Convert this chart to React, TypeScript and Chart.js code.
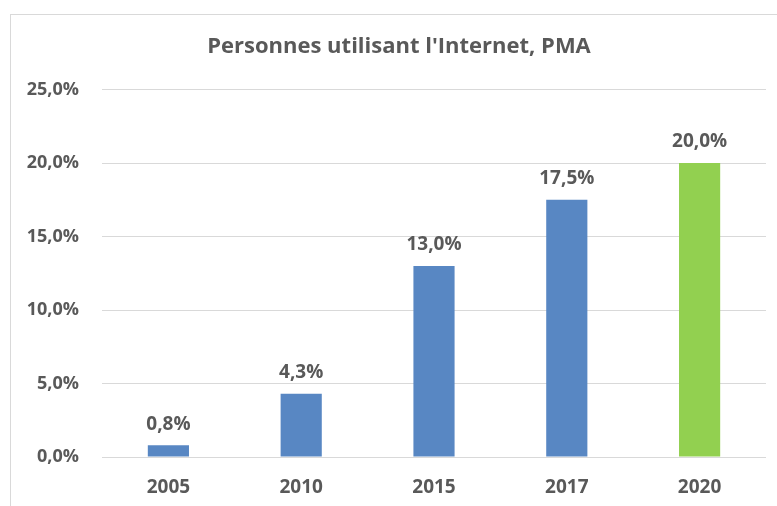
import React, { useEffect, useRef } from "react";
import { Chart, registerables } from "chart.js";

Chart.register(...registerables);

const TITLE = "Personnes utilisant l'Internet, PMA";
const categories = ["2005", "2010", "2015", "2017", "2020"];
const values = [0.8, 4.3, 13.0, 17.5, 20.0];
const barColors = ["#5887c3", "#5887c3", "#5887c3", "#5887c3", "#92d050"];

const TEXT = "#595959";
const FONT = "'Open Sans', 'DejaVu Sans', sans-serif";

const fmt = (v: number) => v.toFixed(1).replace(".", ",") + "%";

const dataLabels = {
  id: "dataLabels",
  afterDatasetsDraw(chart: any) {
    const ctx = chart.ctx;
    const meta = chart.getDatasetMeta(0);
    ctx.save();
    ctx.fillStyle = TEXT;
    ctx.font = `bold 19px ${FONT}`;
    ctx.textAlign = "center";
    ctx.textBaseline = "middle";
    meta.data.forEach((bar: any, i: number) => {
      ctx.fillText(fmt(values[i]), bar.x, bar.y - 21);
    });
    ctx.restore();
  },
};

const customTitle = {
  id: "customTitle",
  afterDraw(chart: any) {
    const ctx = chart.ctx;
    ctx.save();
    ctx.fillStyle = TEXT;
    ctx.font = `bold 22px ${FONT}`;
    ctx.textAlign = "center";
    ctx.textBaseline = "middle";
    ctx.fillText(TITLE, 399, 47);
    ctx.restore();
  },
};

export default function App() {
  const ref = useRef<HTMLCanvasElement | null>(null);
  useEffect(() => {
    if (!ref.current) return;
    const chart = new Chart(ref.current, {
      type: "bar",
      data: {
        labels: categories,
        datasets: [
          {
            data: values,
            backgroundColor: barColors,
            borderWidth: 0,
            barPercentage: 0.31,
            categoryPercentage: 1,
          },
        ],
      },
      options: {
        animation: false,
        responsive: false,
        maintainAspectRatio: false,
        layout: { padding: { left: 0, right: 34, top: 0, bottom: 0 } },
        plugins: {
          legend: { display: false },
          tooltip: { enabled: false },
          title: {
            display: true,
            text: TITLE,
            color: "rgba(0,0,0,0)",
            font: { family: FONT, size: 18, weight: "bold", lineHeight: 1.2 },
            padding: { top: 36, bottom: 32 },
          },
        },
        scales: {
          x: {
            grid: { display: false, drawTicks: false },
            border: { display: false },
            ticks: {
              color: TEXT,
              font: { family: FONT, size: 19, weight: "bold", lineHeight: 1.2 },
              padding: 19,
            },
            afterFit(scale: any) {
              scale.height = 49;
            },
          },
          y: {
            min: 0,
            max: 25,
            grid: { color: "#d9d9d9", drawTicks: false, lineWidth: 1 },
            border: { display: false },
            ticks: {
              stepSize: 5,
              color: TEXT,
              font: { family: FONT, size: 18, weight: "bold" },
              padding: 23,
              callback: (v: any) => fmt(Number(v)),
            },
            afterFit(scale: any) {
              scale.width = 102;
            },
          },
        },
      },
      plugins: [dataLabels, customTitle],
    });
    return () => chart.destroy();
  }, []);

  return (
    <div
      style={{
        position: "absolute",
        left: 0,
        top: 0,
        width: 777,
        height: 506,
        overflow: "hidden",
        background: "#fff",
      }}
    >
      <div
        style={{
          position: "absolute",
          left: 10,
          top: 14,
          width: 820,
          height: 520,
          border: "1px solid #d9d9d9",
          boxSizing: "border-box",
        }}
      />
      <canvas
        ref={ref}
        width={800}
        height={506}
        style={{ position: "absolute", left: 0, top: 0, width: 800, height: 506 }}
      />
    </div>
  );
}
